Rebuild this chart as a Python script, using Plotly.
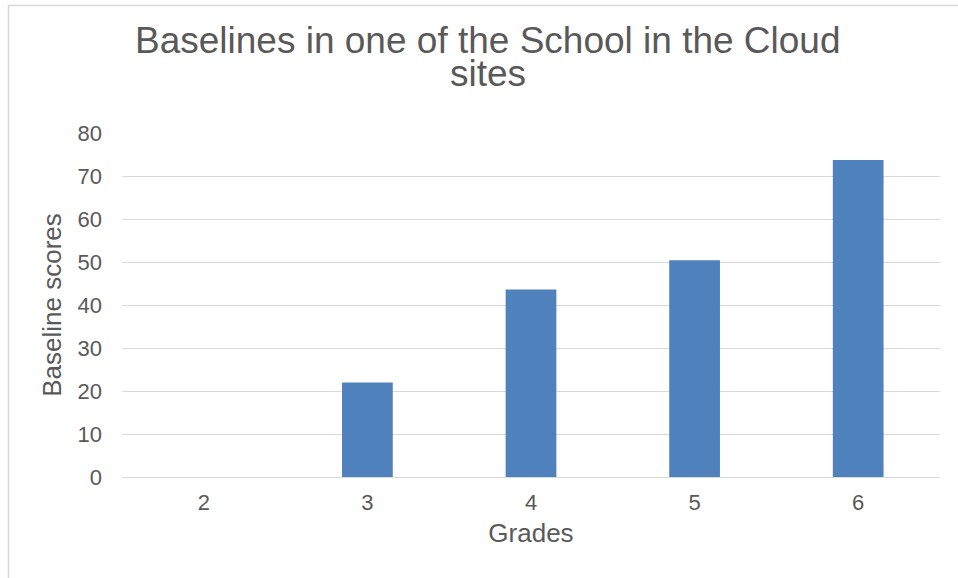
import plotly.graph_objects as go

grades = ["2", "3", "4", "5", "6"]
scores = [0, 22.0, 43.6, 50.4, 73.7]
y_ticks = [0, 10, 20, 30, 40, 50, 60, 70, 80]
title_lines = ["Baselines in one of the School in the Cloud", "sites"]

W, H = 958, 578
L, R, T, B = 122, 18, 133, 101
pw, ph = W - L - R, H - T - B

def px_x(x):
    return (x - L) / pw

def px_y(y):
    return (H - B - y) / ph

fig = go.Figure(go.Bar(x=grades, y=scores, marker_color="#4F81BD",
                       marker_line_width=0, hoverinfo="skip"))

font = "Liberation Sans, Arial, Helvetica, sans-serif"
grey = "#595959"

fig.update_layout(
    width=W, height=H,
    margin=dict(l=L, r=R, t=T, b=B, autoexpand=False),
    paper_bgcolor="white", plot_bgcolor="white",
    bargap=0.69,
    showlegend=False,
    font=dict(family=font, color=grey, size=22),
    xaxis=dict(type="category", showgrid=False, showline=False, ticks="",
               ticklabelstandoff=10,
               tickfont=dict(size=22, color=grey),
               title=dict(text="Grades", font=dict(size=26, color=grey), standoff=9)),
    yaxis=dict(range=[0, 80], tickvals=y_ticks, showgrid=True,
               gridcolor="#D9D9D9", gridwidth=1.3, zeroline=True,
               zerolinecolor="#D9D9D9", zerolinewidth=1.3, showline=False, ticks="",
               ticklabelstandoff=19,
               tickfont=dict(size=22, color=grey),
               title=dict(text="Baseline scores", font=dict(size=26, color=grey), standoff=8)),
)

# two-line chart title (tight line spacing as in the reference)
for txt, yc in zip(title_lines, [41, 74]):
    fig.add_annotation(text=txt, xref="paper", yref="paper",
                       x=px_x(488), y=px_y(yc), xanchor="center", yanchor="middle",
                       showarrow=False, font=dict(size=37, color=grey, family=font))

# outer chart border (light grey)
fig.add_shape(type="rect", xref="paper", yref="paper",
              x0=px_x(8.5), x1=px_x(975),
              y0=px_y(600), y1=px_y(5.5),
              line=dict(color="#D9D9D9", width=1.5), fillcolor="rgba(0,0,0,0)",
              layer="below")

fig.write_html("out.html", config={"displayModeBar": False},
               post_script="document.body.style.margin='0px';document.body.style.overflow='hidden';")
